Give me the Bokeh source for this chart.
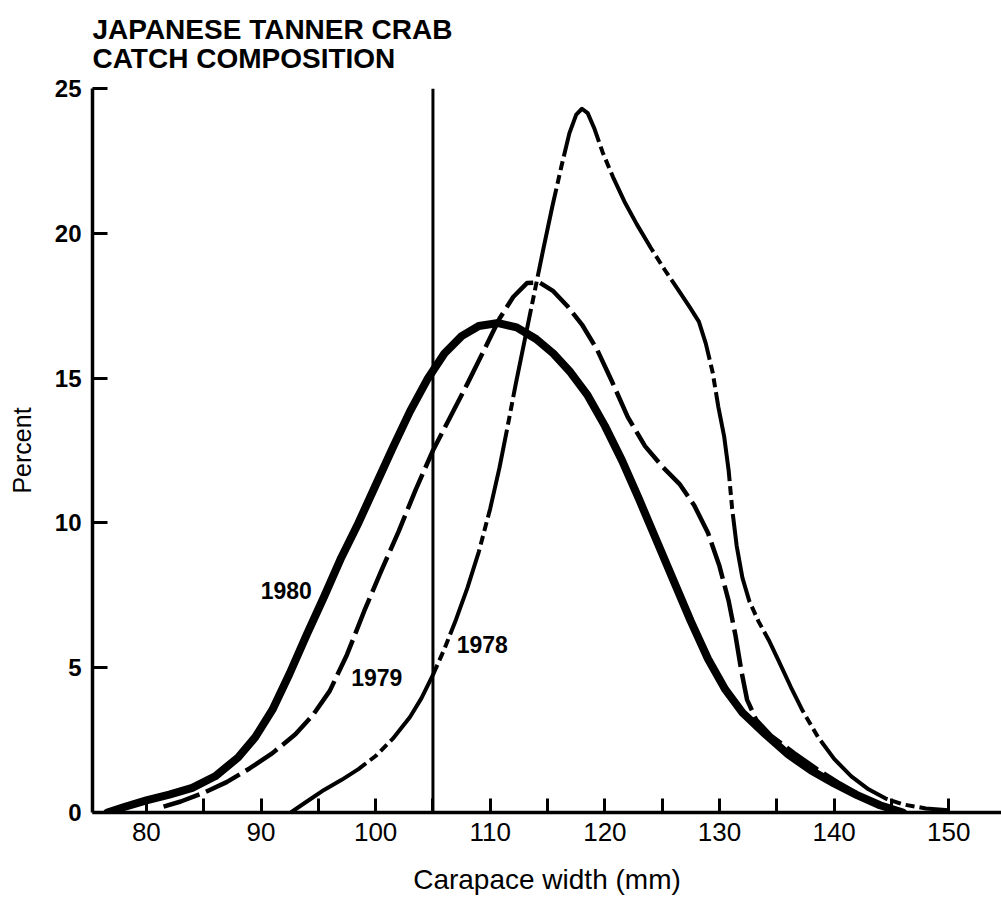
from bokeh.plotting import figure
from bokeh.models import Range1d, FixedTicker, Span, Label
from bokeh.embed import file_html
from bokeh.resources import INLINE

# ---- data ----
x1980 = [76.6, 78.0, 80.0, 82.0, 84.0, 86.0, 88.0, 89.5, 91.0, 92.5, 94.0, 95.5, 97.0, 98.5,
         100.0, 101.5, 103.0, 104.5, 106.0, 107.5, 109.0, 110.7, 112.3, 114.0, 115.5, 117.0,
         118.5, 120.0, 121.5, 123.0, 124.5, 126.0, 127.5, 129.0, 130.5, 132.0, 134.0, 136.0,
         138.0, 140.0, 142.0, 144.0, 146.0]
y1980 = [0.0, 0.18, 0.42, 0.62, 0.85, 1.25, 1.9, 2.6, 3.55, 4.8, 6.15, 7.45, 8.8, 10.0,
         11.3, 12.6, 13.85, 14.95, 15.85, 16.45, 16.8, 16.9, 16.75, 16.35, 15.85, 15.2,
         14.4, 13.35, 12.15, 10.8, 9.4, 8.0, 6.6, 5.3, 4.25, 3.45, 2.7, 2.0,
         1.45, 1.0, 0.6, 0.25, 0.0]

x1979 = [81.5, 83.0, 85.0, 87.0, 89.0, 91.0, 93.0, 94.5, 96.0, 97.5, 99.0, 100.5, 102.0,
         103.5, 105.0, 106.5, 108.0, 109.5, 110.8, 112.0, 113.2, 114.3, 115.5, 116.7, 118.0,
         119.3, 120.6, 122.0, 123.5, 125.0, 126.5, 127.8, 129.0, 130.0, 130.8, 131.4, 131.9,
         132.4, 133.2, 134.5, 136.5, 138.5, 140.5, 142.5, 144.5, 146.0]
y1979 = [0.2, 0.38, 0.68, 1.05, 1.52, 2.05, 2.7, 3.35, 4.2, 5.45, 6.95, 8.35, 9.7,
         11.15, 12.5, 13.65, 14.8, 16.0, 17.05, 17.8, 18.28, 18.3, 18.0, 17.5, 16.85,
         16.0, 14.9, 13.65, 12.65, 11.95, 11.35, 10.6, 9.65, 8.5, 7.3, 6.1, 4.9,
         3.9, 3.2, 2.65, 2.05, 1.5, 1.0, 0.55, 0.2, 0.05]

x1978 = [92.6, 94.0, 95.5, 97.0, 98.5, 100.0, 101.5, 103.0, 104.0, 105.0, 106.0, 107.0,
         108.0, 109.0, 110.0, 110.8, 111.5, 112.2, 113.0, 113.8, 114.6, 115.4, 116.2, 116.9,
         117.5, 118.0, 118.5, 119.1, 119.8, 120.7, 121.7, 122.8, 124.0, 125.2, 126.4, 127.4,
         128.2, 128.8, 129.4, 129.9, 130.4, 130.8, 131.1, 131.5, 132.0, 132.6, 133.4, 134.3,
         135.2, 136.2, 137.2, 138.6, 140.0, 141.5, 143.0, 144.5, 146.0, 148.0, 150.0]
y1978 = [0.0, 0.38, 0.78, 1.12, 1.5, 1.95, 2.55, 3.3, 3.95, 4.75, 5.65, 6.65,
         7.75, 9.0, 10.5, 11.9, 13.3, 14.75, 16.3, 17.85, 19.4, 20.9, 22.3, 23.45,
         24.1, 24.3, 24.15, 23.6, 22.8, 21.95, 21.1, 20.3, 19.5, 18.75, 18.05, 17.45,
         16.95, 16.2, 15.2, 14.0, 13.0, 11.8, 10.5, 9.2, 8.1, 7.3, 6.6, 5.95,
         5.2, 4.35, 3.55, 2.6, 1.85, 1.25, 0.8, 0.48, 0.28, 0.14, 0.08]

size_limit = 105  # vertical reference line (mm)

x_ticks = [80, 90, 100, 110, 120, 130, 140, 150]
x_minor = [85, 95, 105, 115, 125, 135, 145]
y_ticks = [0, 5, 10, 15, 20, 25]

labels = ["1980", "1979", "1978"]
label_x = [92.2, 100.1, 109.3]
label_y = [7.66, 4.66, 5.79]

title_text = "JAPANESE TANNER CRAB\nCATCH COMPOSITION"

FONT = "Liberation Sans"

# ---- figure ----
p = figure(width=1001, height=902, output_backend="svg", toolbar_location=None,
           x_range=Range1d(75.3, 154.6), y_range=Range1d(0, 25),
           min_border_left=92, min_border_right=0, min_border_top=88, min_border_bottom=90)
p.outline_line_color = None
p.grid.visible = False
p.background_fill_color = "white"
p.border_fill_color = "white"

p.title.text = title_text
p.title.align = "left"
p.title.vertical_align = "top"
p.title.text_font = FONT
p.title.text_font_style = "bold"
p.title.text_font_size = "28px"
p.title.text_color = "black"
p.title.text_line_height = 0.95
p.title.standoff = 26

xa = p.xaxis[0]
xa.ticker = FixedTicker(ticks=x_ticks, minor_ticks=x_minor)
xa.axis_line_width = 3.5
xa.major_tick_in = 14
xa.major_tick_out = 0
xa.minor_tick_in = 14
xa.minor_tick_out = 0
xa.major_tick_line_width = 3
xa.minor_tick_line_width = 3
xa.major_label_text_font = FONT
xa.major_label_text_font_size = "26px"
xa.major_label_text_color = "black"
xa.major_label_standoff = 10
xa.axis_label = "Carapace width (mm)"
xa.axis_label_text_font = FONT
xa.axis_label_text_font_size = "28px"
xa.axis_label_text_font_style = "normal"
xa.axis_label_text_color = "black"
xa.axis_label_standoff = 20

ya = p.yaxis[0]
ya.ticker = FixedTicker(ticks=y_ticks, minor_ticks=[])
ya.axis_line_width = 3.5
ya.major_tick_in = 15
ya.major_tick_out = 0
ya.major_tick_line_width = 3
ya.minor_tick_line_color = None
ya.major_label_text_font = FONT
ya.major_label_text_font_style = "bold"
ya.major_label_text_font_size = "24px"
ya.major_label_text_color = "black"
ya.major_label_standoff = 11
ya.axis_label = "Percent"
ya.axis_label_text_font = FONT
ya.axis_label_text_font_size = "25px"
ya.axis_label_text_font_style = "normal"
ya.axis_label_text_color = "black"
ya.axis_label_standoff = 16

p.add_layout(Span(location=size_limit, dimension="height", line_color="black", line_width=3))

p.line(x1980, y1980, line_color="black", line_width=8, line_join="round", line_cap="round")
p.line(x1979, y1979, line_color="black", line_width=4.5, line_dash="38 7", line_join="round")
p.line(x1978, y1978, line_color="black", line_width=4, line_dash="90 5 9 5 9 5", line_join="round")

for t, lx, ly in zip(labels, label_x, label_y):
    p.add_layout(Label(x=lx, y=ly, text=t, text_align="center", text_baseline="middle",
                       text_font=FONT, text_font_style="bold",
                       text_font_size="23px", text_color="black"))

open("out.html", "w").write(file_html(p, INLINE))
